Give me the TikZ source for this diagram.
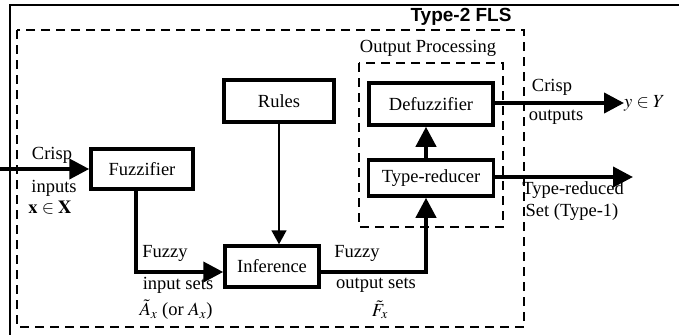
\documentclass[tikz,border=0pt]{standalone}
\usepackage{mathptmx}
\usepackage{fontspec}
\setmainfont{Liberation Serif}
\newfontfamily\headfont{Liberation Sans}
\usetikzlibrary{arrows.meta}

\tikzset{
  blk/.style={draw, line width=3.5pt, inner sep=0pt, align=center},
  flow/.style={line width=4pt, -{Triangle[length=20pt,width=20pt]}},
  thinflow/.style={line width=1.5pt, -{Triangle[length=14pt,width=15pt]}},
  dashbox/.style={line width=2pt, dash pattern=on 9pt off 6pt},
  lbl/.style={inner sep=0pt}
}

\begin{document}
\begin{tikzpicture}[x=1pt, y=-1pt, every node/.style={font=\fontsize{18.5}{22}\selectfont}]
        \useasboundingbox (0,0) rectangle (679,335);

        % Frame
        \draw[line width=2.5pt] (9,5) -- (679,5);
        \draw[line width=2.5pt] (10,5) -- (10,335);
        \node[lbl, font=\headfont\bfseries\fontsize{19}{22}\selectfont] (title) at (461,17) {Type-2 FLS};

        % Dashed boxes
        \draw[dashbox] (17,30) rectangle (524,327);
        \draw[dashbox] (359,63) rectangle (503,227);
        \node[lbl] (outproc) at (428,48) {Output Processing};

        % Blocks
        \node[blk, minimum width=102pt, minimum height=40pt] (fuzz) at (142,169) {Fuzzifier};
        \node[blk, minimum width=110pt, minimum height=42pt] (rules) at (279,101) {Rules};
        \node[blk, minimum width=94pt, minimum height=41pt] (inf) at (272,266.5) {Inference};
        \node[blk, minimum width=124pt, minimum height=42pt] (dfz) at (431,104) {Defuzzifier};
        \node[blk, minimum width=125pt, minimum height=36pt] (tr) at (431,178) {Type-reducer};

        % Bends and free ends
        \coordinate (inp) at (0,169);
        \coordinate (c1) at (136,272);
        \coordinate (c2) at (426,272);
        \coordinate (trend) at (633,177);
        \node[lbl, anchor=west] (yout) at (624,103) {$y\in Y$};

        % Connectors
        \draw[flow] (inp) -- (fuzz.west);
        \draw[flow] (fuzz.south -| c1) -- (c1) -- (inf.west |- c1);
        \draw[thinflow] (rules.south) -- (rules.south |- inf.north);
        \draw[flow] (inf.east |- c2) -- (c2) -- (tr.south -| c2);
        \draw[flow] (tr.north -| c2) -- (dfz.south -| c2);
        \draw[flow] (dfz.east |- yout) -- (yout.west);
        \draw[flow] (tr.east |- trend) -- (trend);

        % Labels
        \node[lbl] (crispin) at (52,155) {Crisp};
        \node[lbl] (inputs) at (54,188) {inputs};
        \node[lbl] (xin) at (50,208) {$\mathbf{x}\in\mathbf{X}$};
        \node[lbl] (fzin) at (165,253) {Fuzzy};
        \node[lbl] (insets) at (178,285) {input sets};
        \node[lbl] (ax) at (176,310) {$\tilde{A}_x$ (or $A_x$)};
        \node[lbl] (fzout) at (357,253) {Fuzzy};
        \node[lbl] (outsets) at (376,285) {output sets};
        \node[lbl] (fx) at (380,310) {$\tilde{F}_x$};
        \node[lbl] (crispout) at (552,87) {Crisp};
        \node[lbl] (outputs) at (556,117) {outputs};
        \node[lbl] (trd) at (573,190) {Type-reduced};
        \node[lbl] (set1) at (572,212) {Set (Type-1)};
\end{tikzpicture}
\end{document}
